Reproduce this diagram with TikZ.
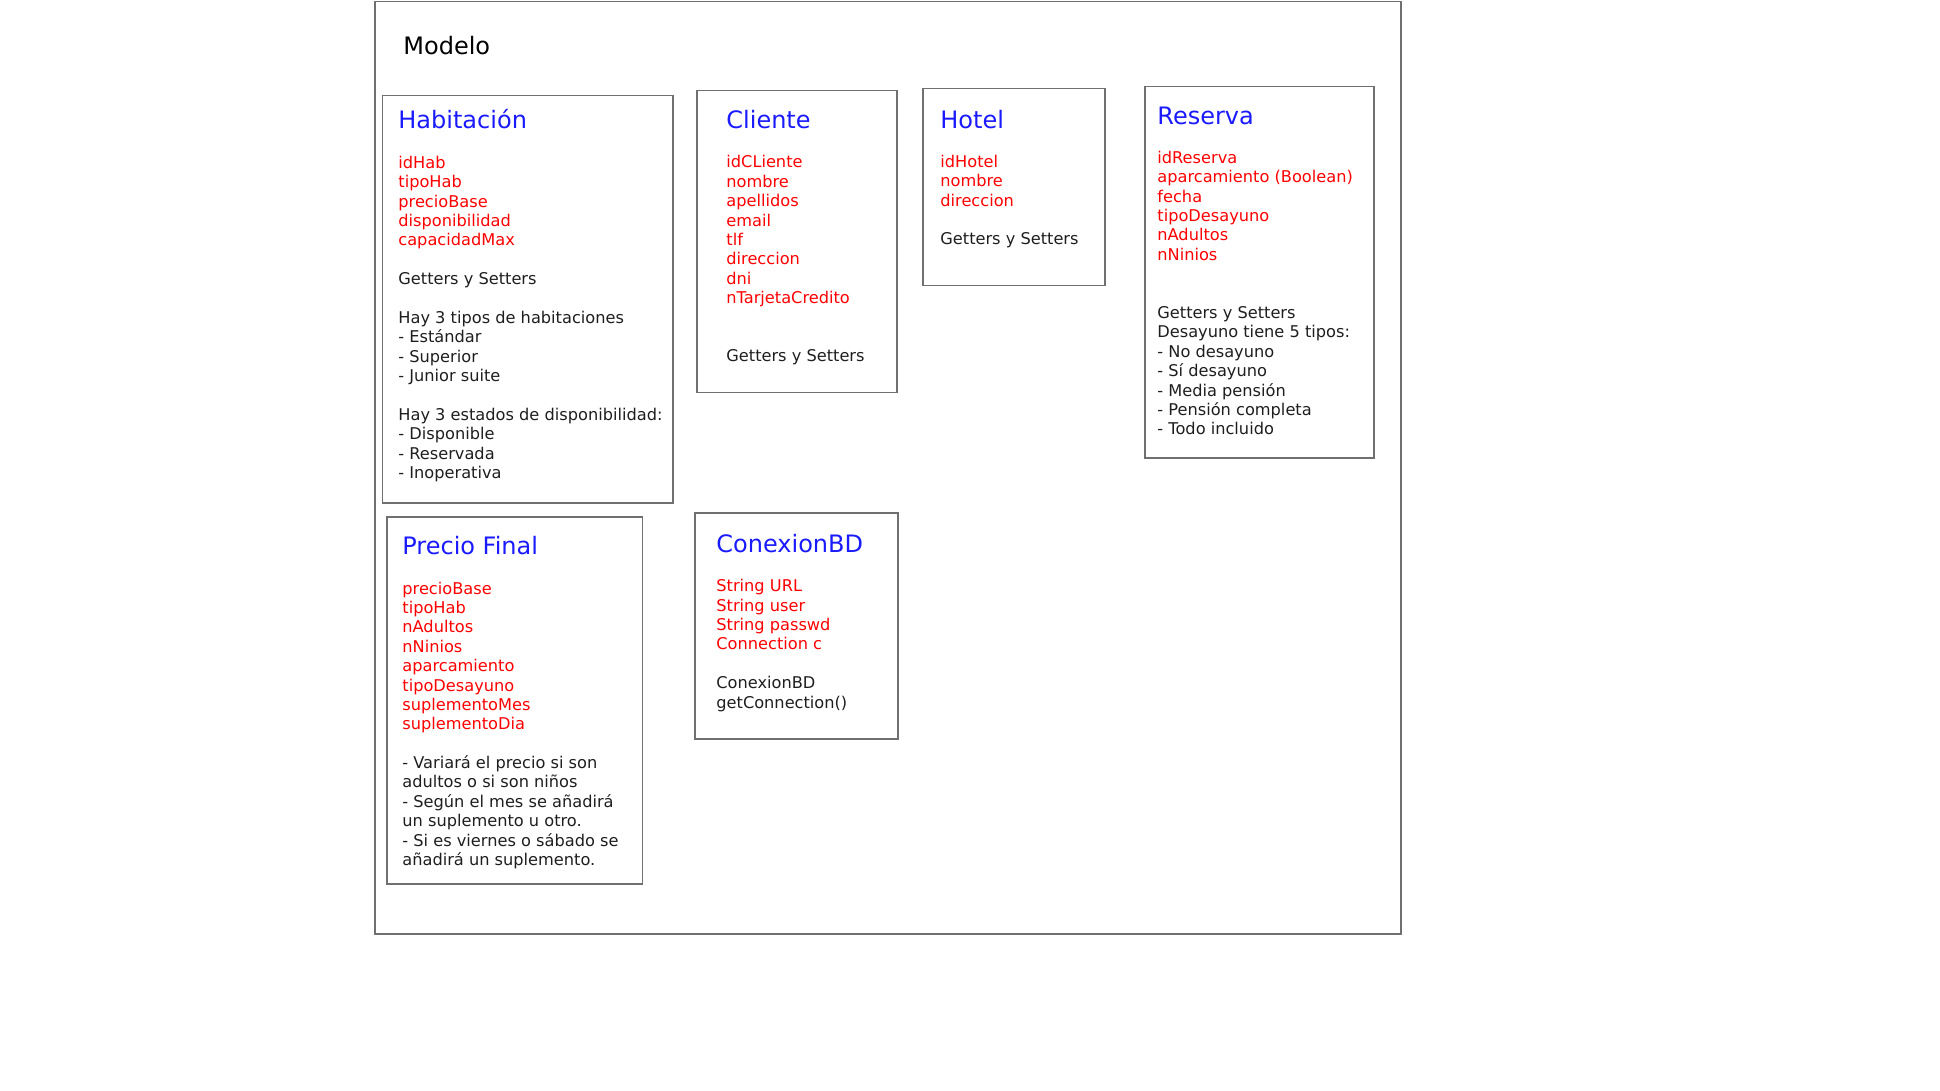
\documentclass[tikz,border=0pt]{standalone}
\usepackage{fontspec}
\setmainfont{DejaVu Sans}
\definecolor{azul}{RGB}{26,26,255}
\definecolor{rojo}{RGB}{255,0,0}
\definecolor{borde}{RGB}{112,112,112}
\definecolor{negro}{RGB}{30,30,30}
\newcommand{\attr}[1]{\textcolor{rojo}{#1}}
\newcommand{\lineas}[1]{\begin{tabular}[t]{@{}l@{}}#1\end{tabular}}
\tikzset{
	clase/.style={draw=borde, line width=0.75pt, anchor=north west, inner sep=0pt},
	titulo/.style={text=azul, anchor=base west, inner sep=0pt, font=\fontsize{12}{14}\selectfont},
	cuerpo/.style={text=negro, anchor=base west, inner sep=0pt, font=\fontsize{8.1}{9.7}\selectfont},
}

\begin{document}
\begin{tikzpicture}[x=0.5pt, y=-0.5pt]
	\useasboundingbox (0, 0) rectangle (1940, 1091);
	\node[clase, minimum width=513pt, minimum height=466pt] (modelo) at (374, 1) {};
	\node[anchor=base west, inner sep=0pt, font=\fontsize{12}{14}\selectfont] (tmodelo) at (403, 55) {Modelo};

	% boxes
	\node[clase, minimum width=145.25pt, minimum height=203.5pt] (habitacion) at (381.5, 95) {};
	\node[clase, minimum width=100pt, minimum height=151pt] (cliente) at (696, 90) {};
	\node[clase, minimum width=91pt, minimum height=98.5pt] (hotel) at (922, 88) {};
	\node[clase, minimum width=114.5pt, minimum height=185.5pt] (reserva) at (1144, 86) {};
	\node[clase, minimum width=127.85pt, minimum height=183.5pt] (precio) at (386, 516) {};
	\node[clase, minimum width=101.5pt, minimum height=113pt] (conexion) at (694, 512) {};

	% Habitacion
	\node[titulo] (thab) at (398, 129) {Habitación};
	\node[cuerpo] (bhab) at (398, 168.3) {\lineas{\attr{idHab}\\ \attr{tipoHab}\\ \attr{precioBase}\\
		\attr{disponibilidad}\\ \attr{capacidadMax}\\ \\ Getters y Setters\\ \\
		Hay 3 tipos de habitaciones\\ - Estándar\\ - Superior\\ - Junior suite\\ \\
		Hay 3 estados de disponibilidad:\\ - Disponible\\ - Reservada\\ - Inoperativa}};

	% Cliente
	\node[titulo] (tcli) at (726, 129) {Cliente};
	\node[cuerpo] (bcli) at (726, 168) {\lineas{\attr{idCLiente}\\ \attr{nombre}\\ \attr{apellidos}\\
		\attr{email}\\ \attr{tlf}\\ \attr{direccion}\\ \attr{dni}\\ \attr{nTarjetaCredito}\\ \\ \\
		Getters y Setters}};

	% Hotel
	\node[titulo] (thot) at (940, 128.7) {Hotel};
	\node[cuerpo] (bhot) at (940, 167.3) {\lineas{\attr{idHotel}\\ \attr{nombre}\\ \attr{direccion}\\ \\
		Getters y Setters}};

	% Reserva
	\node[titulo] (tres) at (1157, 124.3) {Reserva};
	\node[cuerpo] (bres) at (1157, 163.3) {\lineas{\attr{idReserva}\\ \attr{aparcamiento (Boolean)}\\
		\attr{fecha}\\ \attr{tipoDesayuno}\\ \attr{nAdultos}\\ \attr{nNinios}\\ \\ \\
		Getters y Setters\\ Desayuno tiene 5 tipos:\\ - No desayuno\\ - Sí desayuno\\
		- Media pensión\\ - Pensión completa\\ - Todo incluido}};

	% Precio Final
	\node[titulo] (tpre) at (402, 554.3) {Precio Final};
	\node[cuerpo] (bpre) at (402, 594) {\lineas{\attr{precioBase}\\ \attr{tipoHab}\\ \attr{nAdultos}\\
		\attr{nNinios}\\ \attr{aparcamiento}\\ \attr{tipoDesayuno}\\ \attr{suplementoMes}\\
		\attr{suplementoDia}\\ \\
		- Variará el precio si son\\ adultos o si son niños\\ - Según el mes se añadirá\\
		un suplemento u otro.\\ - Si es viernes o sábado se\\ añadirá un suplemento.}};

	% ConexionBD
	\node[titulo] (tcon) at (716, 552.7) {ConexionBD};
	\node[cuerpo] (bcon) at (716, 591.7) {\lineas{\attr{String URL}\\ \attr{String user}\\
		\attr{String passwd}\\ \attr{Connection c}\\ \\ ConexionBD\\ getConnection()}};
\end{tikzpicture}
\end{document}
